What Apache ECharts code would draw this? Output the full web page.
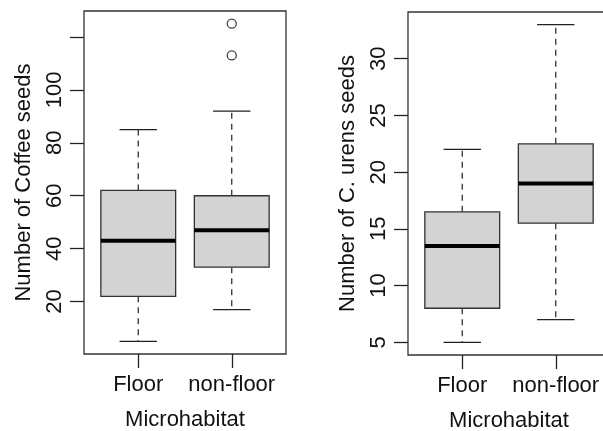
<!DOCTYPE html>
<html>
<head>
<meta charset="utf-8">
<script src="https://cdn.jsdelivr.net/npm/echarts@6/dist/echarts.min.js"></script>
<style>
html,body{margin:0;padding:0;background:#fff;}
#chart{width:603px;height:431px;}
</style>
</head>
<body>
<div id="chart"></div>
<script>
// ---- data ----
const categories = ['Floor', 'non-floor'];
// [low whisker, Q1, median, Q3, high whisker]
const coffeeFloor = [5, 22, 43, 62, 85];
const coffeeNonFloor = [17, 33, 47, 60, 92];
const coffeeOutliers = [113, 125]; // non-floor
const urensFloor = [5, 8, 13.5, 16.5, 22];
const urensNonFloor = [7, 15.5, 19, 22.5, 33];
const coffeeTicks = [20, 40, 60, 80, 100, 120];
const coffeeTickLabels = [20, 40, 60, 80, 100];
const urensTicks = [5, 10, 15, 20, 25, 30];

const FONT = 'Liberation Sans, Arial, sans-serif';
const FS = 22;

function boxRender(params, api) {
  const x = api.value(0);
  const lo = api.value(1), q1 = api.value(2), md = api.value(3), q3 = api.value(4), hi = api.value(5);
  const hb = 0.4, hc = 0.2;
  const tl = api.coord([x - hb, q3]);
  const br = api.coord([x + hb, q1]);
  const c = api.coord([x, md]);
  const pLo = api.coord([x, lo]), pHi = api.coord([x, hi]);
  const pQ1 = api.coord([x, q1]), pQ3 = api.coord([x, q3]);
  const capL = api.coord([x - hc, lo])[0], capR = api.coord([x + hc, lo])[0];
  const dash = {stroke: '#222', lineWidth: 1.2, lineDash: [6, 5]};
  const solid = {stroke: '#222', lineWidth: 1.3};
  return {
    type: 'group',
    children: [
      {type: 'line', shape: {x1: c[0], y1: pQ3[1], x2: c[0], y2: pHi[1]}, style: dash},
      {type: 'line', shape: {x1: c[0], y1: pQ1[1], x2: c[0], y2: pLo[1]}, style: dash},
      {type: 'line', shape: {x1: capL, y1: pHi[1], x2: capR, y2: pHi[1]}, style: solid},
      {type: 'line', shape: {x1: capL, y1: pLo[1], x2: capR, y2: pLo[1]}, style: solid},
      {type: 'rect', shape: {x: tl[0], y: tl[1], width: br[0] - tl[0], height: br[1] - tl[1]},
        style: {fill: '#d3d3d3', stroke: '#333', lineWidth: 1.3}},
      {type: 'line', shape: {x1: tl[0], y1: c[1], x2: br[0], y2: c[1]}, style: {stroke: '#000', lineWidth: 4}}
    ]
  };
}

function xAxisFor(gi) {
  return {
    type: 'value', gridIndex: gi, min: 0.42, max: 2.58,
    name: 'Microhabitat', nameLocation: 'middle', nameGap: 55,
    nameTextStyle: {fontFamily: FONT, fontSize: FS, color: '#111'},
    axisLine: {show: false},
    splitLine: {show: false},
    axisTick: {show: true, inside: false, length: 14, customValues: [1, 2], lineStyle: {color: '#222', width: 1.3}},
    axisLabel: {show: true, customValues: [1, 2], margin: 20,
      fontFamily: FONT, fontSize: FS, color: '#111',
      formatter: v => categories[Math.round(v) - 1] || ''}
  };
}

function yAxisFor(gi, min, max, ticks, labels, name) {
  return {
    type: 'value', gridIndex: gi, min: min, max: max,
    name: name, nameLocation: 'middle', nameGap: 49, nameRotate: 90,
    nameTextStyle: {fontFamily: FONT, fontSize: FS, color: '#111'},
    axisLine: {show: false},
    splitLine: {show: false},
    axisTick: {show: true, inside: false, length: 14, customValues: ticks, lineStyle: {color: '#222', width: 1.3}},
    axisLabel: {show: true, customValues: labels, rotate: 90, margin: 18,
      fontFamily: FONT, fontSize: FS, color: '#111'}
  };
}

const chart = echarts.init(document.getElementById('chart'), null, {renderer: 'canvas'});
chart.setOption({
  animation: false,
  backgroundColor: '#fff',
  grid: [
    {left: 84, top: 11, width: 202, height: 343, show: true, borderColor: '#333', borderWidth: 1.3, backgroundColor: 'transparent', containLabel: false, outerBoundsMode: 'none'},
    {left: 408, top: 12, width: 202, height: 343, show: true, borderColor: '#333', borderWidth: 1.3, backgroundColor: 'transparent', containLabel: false, outerBoundsMode: 'none'}
  ],
  xAxis: [xAxisFor(0), xAxisFor(1)],
  yAxis: [
    yAxisFor(0, 0.2, 129.8, coffeeTicks, coffeeTickLabels, 'Number of Coffee seeds'),
    yAxisFor(1, 3.88, 34.12, urensTicks, urensTicks, 'Number of C. urens seeds')
  ],
  series: [
    {type: 'custom', xAxisIndex: 0, yAxisIndex: 0, renderItem: boxRender,
      encode: {x: 0, y: [1, 2, 3, 4, 5]},
      data: [[1].concat(coffeeFloor), [2].concat(coffeeNonFloor)]},
    {type: 'scatter', xAxisIndex: 0, yAxisIndex: 0, symbol: 'circle', symbolSize: 9,
      itemStyle: {color: 'transparent', borderColor: '#111', borderWidth: 1.3},
      data: coffeeOutliers.map(v => [2, v])},
    {type: 'custom', xAxisIndex: 1, yAxisIndex: 1, renderItem: boxRender,
      encode: {x: 0, y: [1, 2, 3, 4, 5]},
      data: [[1].concat(urensFloor), [2].concat(urensNonFloor)]}
  ]
});
</script>
</body>
</html>
